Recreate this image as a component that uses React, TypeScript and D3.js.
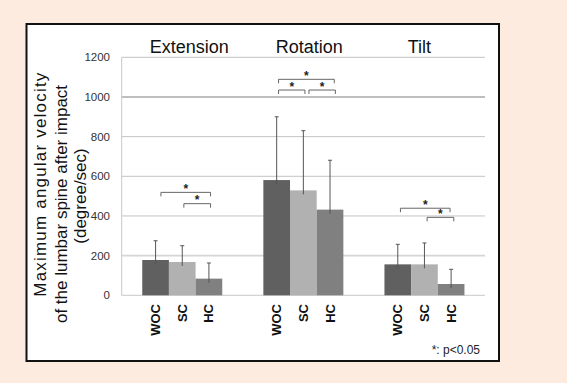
import React from "react";
import * as d3 from "d3";

const groups = ["Extension", "Rotation", "Tilt"];
const conditions = ["WOC", "SC", "HC"];
const means = [
  [178, 168, 84],
  [581, 529, 432],
  [156, 156, 57],
];
const errTops = [
  [275, 250, 163],
  [900, 830, 681],
  [257, 264, 131],
];
const yTicks = [0, 200, 400, 600, 800, 1000, 1200];
const barColors = ["#606060", "#b1b1b1", "#808080"];
// brackets: group index, from (bar units), to (bar units), y value
const brackets = [
  { g: 0, from: 0.7, to: 2.56, y: 519 },
  { g: 0, from: 1.56, to: 2.56, y: 462 },
  { g: 1, from: 0.57, to: 2.66, y: 1089 },
  { g: 1, from: 0.57, to: 1.56, y: 1035 },
  { g: 1, from: 1.71, to: 2.7, y: 1035 },
  { g: 2, from: 0.6, to: 2.46, y: 439 },
  { g: 2, from: 1.6, to: 2.6, y: 393 },
];
const titleOffsets = [7, 6, -5];

export default function App() {
  const W = 567, H = 383;
  const left = 121.7, right = 485, top = 57.3, bottom = 295.3;
  const x0 = d3.scaleBand().domain(groups).range([left, right]).paddingInner(0).paddingOuter(0);
  const groupPad = (x0.bandwidth() - 80) / 2;
  const x1 = d3.scaleBand().domain(conditions).range([groupPad, groupPad + 80]);
  const y = d3.scaleLinear().domain([0, 1200]).range([bottom, top]);
  const font = "'Liberation Sans', Arial, sans-serif";

  return (
    <svg width={W} height={H} style={{ position: "absolute", left: 0, top: 0 }}>
      <rect x={0} y={0} width={W} height={H} fill="#fdebe0" />
      <rect x={26.5} y={24} width={472.5} height={337} fill="#ffffff" stroke="#111" strokeWidth={2} />
      {yTicks.map((t) => (
        <g key={t}>
          {t > 0 && (
            <line
              x1={left}
              x2={right}
              y1={y(t)}
              y2={y(t)}
              stroke={t === 1000 ? "#a8a8a8" : t === 200 ? "#d6d6d6" : "#c4c4c4"}
              strokeWidth={t === 1000 || t === 200 ? 1.6 : 1}
            />
          )}
          <text x={110} y={y(t) + 4} textAnchor="end" fontSize={11.5} fontFamily={font} fill="#333">
            {t}
          </text>
        </g>
      ))}
      <line x1={left} x2={left} y1={top} y2={bottom} stroke="#c8c8c8" strokeWidth={1} />
      <line x1={left} x2={right} y1={bottom} y2={bottom} stroke="#c8c8c8" strokeWidth={1} />
      {groups.map((g, gi) => {
        const gx = x0(g)!;
        return (
          <g key={g}>
            <text
              x={gx + x0.bandwidth() / 2 + titleOffsets[gi]}
              y={53}
              textAnchor="middle"
              fontSize={18}
              fontFamily={font}
              fill="#111"
            >
              {g}
            </text>
            {conditions.map((c, ci) => {
              const bx = gx + x1(c)!;
              const cx = bx + x1.bandwidth() / 2;
              return (
                <g key={c}>
                  <rect
                    x={bx}
                    y={y(means[gi][ci])}
                    width={x1.bandwidth()}
                    height={y(0) - y(means[gi][ci])}
                    fill={barColors[ci]}
                  />
                  <line
                    x1={cx}
                    x2={cx}
                    y1={y(means[gi][ci]) + 4}
                    y2={y(errTops[gi][ci])}
                    stroke="#555"
                    strokeWidth={1}
                  />
                  <line
                    x1={cx - 2}
                    x2={cx + 2}
                    y1={y(errTops[gi][ci])}
                    y2={y(errTops[gi][ci])}
                    stroke="#555"
                    strokeWidth={1}
                  />
                  <text
                    transform={`translate(${cx + 4.5},304) rotate(-90)`}
                    textAnchor="end"
                    fontSize={13}
                    fontWeight="bold"
                    fontFamily={font}
                    fill="#111"
                  >
                    {c}
                  </text>
                </g>
              );
            })}
          </g>
        );
      })}
      {brackets.map((b, i) => {
        const gx = x0(groups[b.g])! + groupPad;
        const bw = x1.bandwidth();
        const xa = gx + b.from * bw;
        const xb = gx + b.to * bw;
        const yy = y(b.y);
        return (
          <g key={i}>
            <path
              d={`M${xa},${yy + 4}V${yy}H${xb}V${yy + 4}`}
              fill="none"
              stroke="#666"
              strokeWidth={1}
            />
            <text x={(xa + xb) / 2} y={yy + 0.5} textAnchor="middle" fontSize={12} fontWeight="bold" fontFamily={font} fill="#222">
              *
            </text>
          </g>
        );
      })}
      <g fontFamily={font} fontSize={17} fill="#111" textAnchor="middle">
        <text transform="translate(46,184.7) rotate(-90)" textLength={224} lengthAdjust="spacing">
          Maximum angular velocity
        </text>
        <text transform="translate(67,204) rotate(-90)">of the lumbar spine after impact</text>
        <text transform="translate(86,196) rotate(-90)">(degree/sec)</text>
      </g>
      <text x={480} y={354} textAnchor="end" fontSize={12} fontFamily={font} fill="#222">
        *: p&lt;0.05
      </text>
    </svg>
  );
}
